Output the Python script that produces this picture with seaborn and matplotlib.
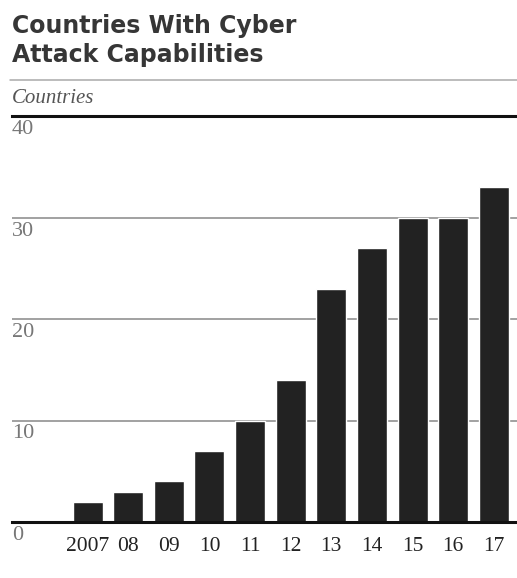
import matplotlib
matplotlib.use("Agg")
import matplotlib.pyplot as plt
import matplotlib.transforms as mtransforms
import seaborn as sns
import pandas as pd

# Data
years = ["2007", "08", "09", "10", "11", "12", "13", "14", "15", "16", "17"]
countries = [2, 3, 4, 7, 10, 14, 23, 27, 30, 30, 33]
y_ticks = [0, 10, 20, 30, 40]
y_tick_labels = ["0", "10", "20", "30", "40"]

df = pd.DataFrame({"year": years, "countries": countries})

sns.set_theme(style="white")
plt.rcParams["font.family"] = ["DejaVu Sans"]

W, H = 517, 578
fig = plt.figure(figsize=(W / 100, H / 100), dpi=100)
fig.patch.set_facecolor("white")

# Plot area in pixel terms
left_px, right_px, top_px, bottom_px = 12, 517, 116, 522
ax = fig.add_axes([left_px / W, 1 - bottom_px / H,
                   (right_px - left_px) / W, (bottom_px - top_px) / H])

sns.barplot(data=df, x="year", y="countries", color="#222222",
            saturation=1, width=0.74, ax=ax)

ax.set_xlim(-1.86, 10.57)
ax.set_ylim(0, 40)
ax.set_xlabel("")
ax.set_ylabel("")

# Horizontal rules
for v in y_ticks[1:-1]:
    ax.axhline(v, color="#9a9a9a", lw=1.3, zorder=0)

for side in ["left", "right"]:
    ax.spines[side].set_visible(False)
ax.spines["top"].set_color("#111111")
ax.spines["top"].set_linewidth(2.2)
ax.spines["bottom"].set_color("#111111")
ax.spines["bottom"].set_linewidth(2.2)

ax.set_yticks([])
ax.tick_params(axis="x", length=0, pad=11)
for lbl in ax.get_xticklabels():
    lbl.set_fontfamily("Liberation Serif")
    lbl.set_fontsize(15.5)
    lbl.set_color("#222222")

# Value labels sit just under each rule, at the left edge
trans = mtransforms.blended_transform_factory(ax.transAxes, ax.transData)
offset = mtransforms.ScaledTranslation(0, -4 / 100, fig.dpi_scale_trans)
for v, t in zip(y_ticks, y_tick_labels):
    ax.text(0.0, v, t, transform=trans + offset, ha="left", va="top",
            fontfamily="Liberation Serif", fontsize=16, color="#777777")

# Title block
fig.text(12 / W, 1 - 14 / H, "Countries With Cyber\nAttack Capabilities",
         ha="left", va="top", fontsize=17, fontweight="bold",
         fontfamily="DejaVu Sans", color="#363636", linespacing=1.26)
fig.add_artist(plt.Line2D([10 / W, 1.0], [1 - 80 / H, 1 - 80 / H],
                          color="#aaaaaa", lw=1.1, transform=fig.transFigure))
fig.text(12 / W, 1 - 89 / H, "Countries", ha="left", va="top",
         fontfamily="Liberation Serif", fontstyle="italic", fontsize=15,
         color="#555555")

fig.savefig("out.png", dpi=100, facecolor="white")
